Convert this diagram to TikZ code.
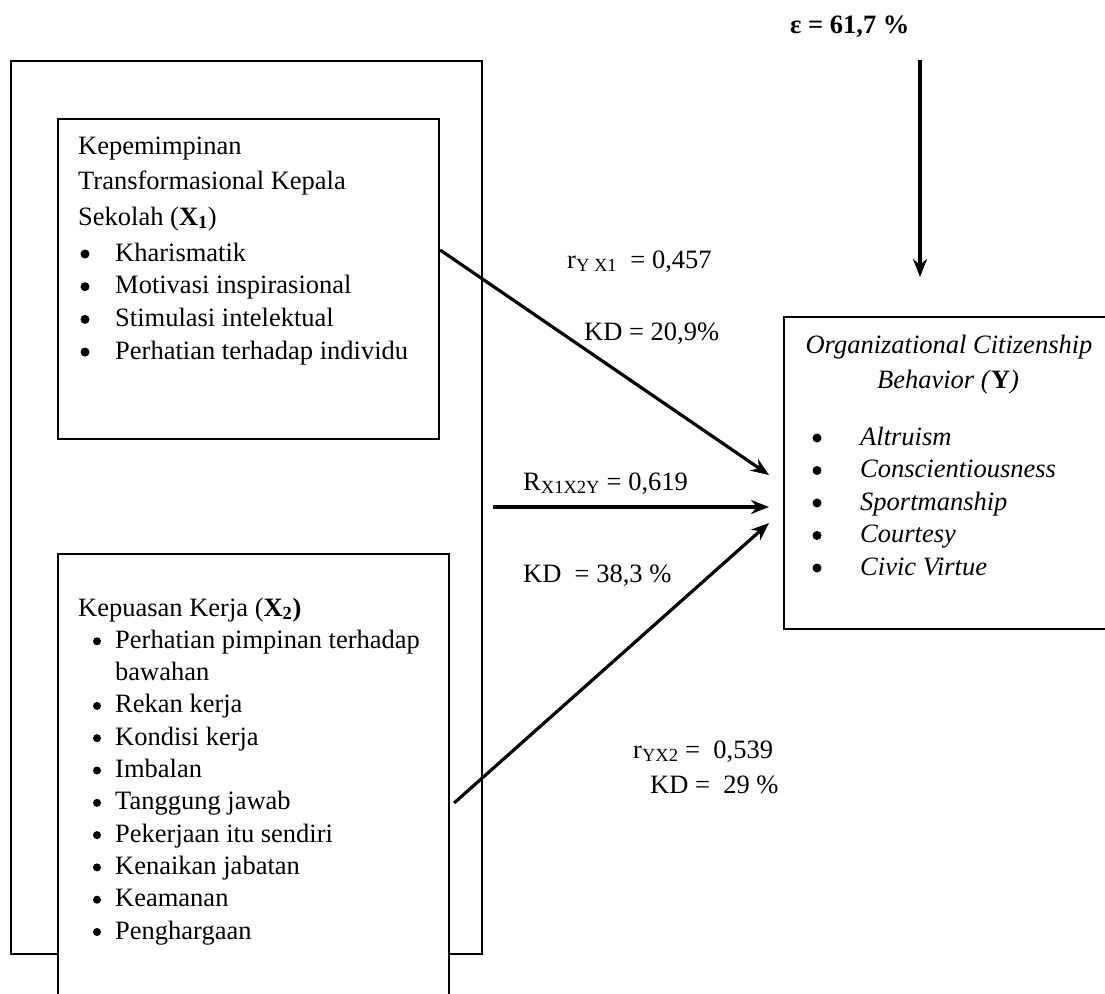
\documentclass[tikz,border=0pt]{standalone}
\usepackage{fontspec}
\setmainfont{Liberation Serif}
\usetikzlibrary{arrows.meta, positioning}

\begin{document}
\begin{tikzpicture}[x=1pt, y=-1pt, font=\fontsize{26.5pt}{32pt}\selectfont, box/.style={draw, line width=2.1pt, fill=white, inner sep=0pt, anchor=north west}, arr/.style={-{Stealth[length=18pt, width=14pt]}, line width=3.2pt}, lbl/.style={anchor=base west, inner sep=0pt}, dotb/.style={circle, fill, inner sep=0pt, minimum size=9pt}]
\useasboundingbox (0,0) rectangle (1105,993);
% frames
\node[box, minimum width=471pt, minimum height=893pt] (outer) at (10,60) {};
\node[box, minimum width=381pt, minimum height=320pt] (kep) at (57,118) {};
\node[box, minimum width=391pt, minimum height=470pt] (kpk) at (57,553) {};
\node[box, minimum width=332pt, minimum height=312pt] (ocb) at (783,316) {};
% X1
\node[lbl] (kept1) at (78,154) {Kepemimpinan};
\node[lbl] (kept2) at (78,189.5) {Transformasional Kepala};
\node[lbl] (kept3) at (78,225) {Sekolah (\textbf{X\textsubscript{1}})};
\foreach \t [count=\i] in {Kharismatik, Motivasi inspirasional, Stimulasi intelektual, Perhatian terhadap individu}{\node[dotb] (kepb\i) at (85,221.3+32.7*\i) {};\node[lbl] (kepi\i) at (115,228.3+32.7*\i) {\t};}
% X2
\node[lbl] (kpkt) at (78,616) {Kepuasan Kerja (\textbf{X\textsubscript{2})}};
\foreach \k/\t in {1/Perhatian pimpinan terhadap, 3/Rekan kerja, 4/Kondisi kerja, 5/Imbalan, 6/Tanggung jawab, 7/Pekerjaan itu sendiri, 8/Kenaikan jabatan, 9/Keamanan, 10/Penghargaan}{\node[dotb, minimum size=8pt] (kpkb\k) at (97,609+32.3*\k) {};\node[lbl] (kpki\k) at (115,616+32.3*\k) {\t};}
\node[lbl] (kpki2) at (115,680.6) {bawahan};
% Y
\node[anchor=base, inner sep=0pt] (ocbt1) at (949,353) {\itshape Organizational Citizenship};
\node[anchor=base, inner sep=0pt] (ocbt2) at (948,388) {\textit{Behavior (}\textbf{Y}\textit{)}};
\foreach \t [count=\i] in {Altruism, Conscientiousness, Sportmanship, Courtesy, Civic Virtue}{\node[dotb] (ocbb\i) at (817,405.5+32.5*\i) {};\node[lbl] (ocbi\i) at (860,412.5+32.5*\i) {\itshape\t};}
% labels
\node[lbl] (eps) at (790,33) {\textbf{ε = 61,7 \%}};
\node[lbl] (ryx1) at (567,268) {r\textsubscript{Y X1}~~= 0,457};
\node[lbl] (kd1) at (584,340) {KD = 20,9\%};
\node[lbl] (rx12) at (523,490) {R\textsubscript{X1X2Y} = 0,619};
\node[lbl] (kd12) at (523,582) {KD~~= 38,3 \%};
\node[lbl] (ryx2) at (633,758) {r\textsubscript{YX2}~=~~0,539};
\node[lbl] (kd2) at (650,793) {KD =~~29 \%};
% arrows
\coordinate (epsfrom) at (920,60);
\coordinate (epsto) at (920,277);
\coordinate (inA) at (769,475);
\coordinate (inB) at (769,507);
\coordinate (inC) at (769,523);
\draw[arr] (epsfrom) -- (epsto);
\draw[arr] (kep.east |- 0,250) -- (inA);
\draw[arr] ([xshift=10pt]outer.east |- inB) -- (inB);
\draw[arr] ([xshift=4pt]kpk.east |- 0,803) -- (inC);
\end{tikzpicture}
\end{document}
